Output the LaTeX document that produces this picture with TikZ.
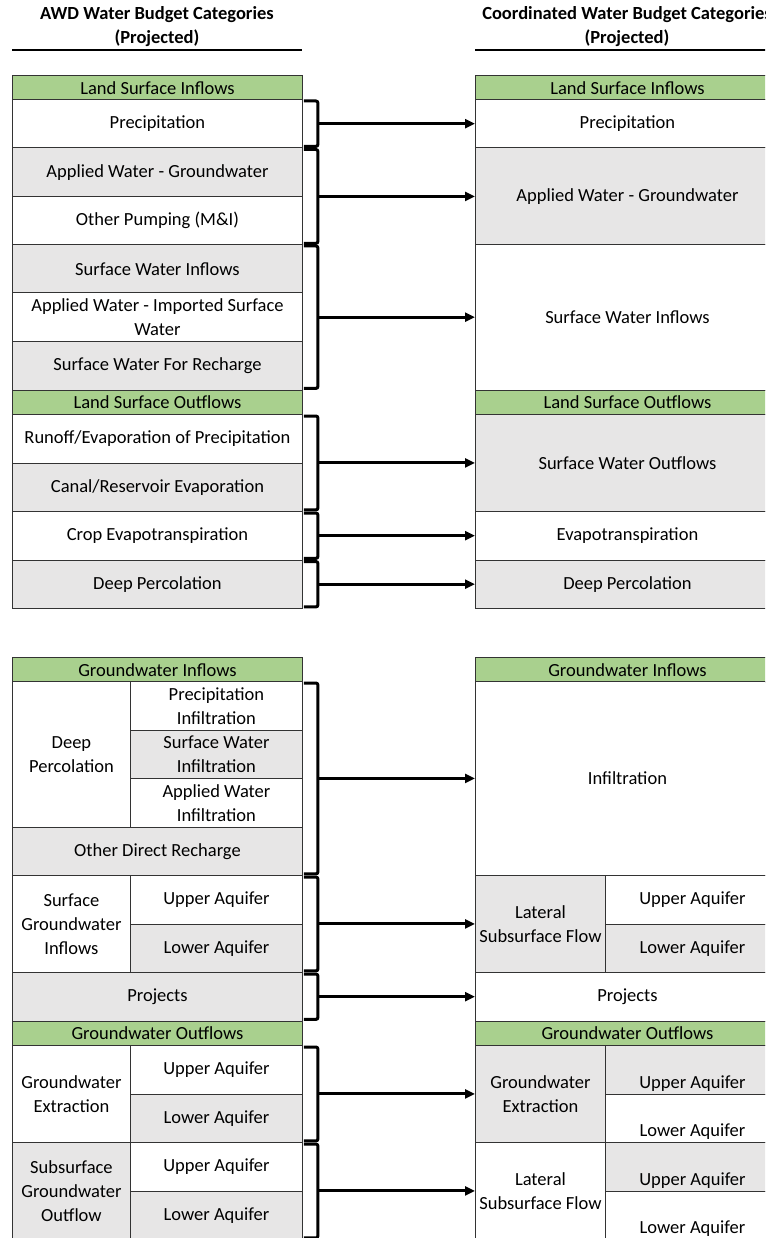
\documentclass[tikz,border=0pt]{standalone}
\usepackage{fontspec}
\setmainfont{Carlito}
\usepackage{xcolor}
\usetikzlibrary{arrows.meta,calc}

\definecolor{headgreen}{RGB}{169,208,142}
\definecolor{cellgrey}{RGB}{231,230,230}

\begin{document}
\begin{tikzpicture}[x=1pt, y=-1pt,
      every node/.style = {font=\fontsize{18.5}{24}\selectfont},
      cell/.style = {shape=rectangle, draw=black!80, line width=0.9pt,
        anchor=north west, inner sep=0pt, align=center},
      hdr/.style = {cell, fill=headgreen, minimum height=24.5pt},
      wh/.style = {cell, fill=white},
      gr/.style = {cell, fill=cellgrey},
      h1/.style = {minimum height=48.5pt},
      h2/.style = {minimum height=97pt},
      h3/.style = {minimum height=145.5pt},
      h4/.style = {minimum height=194pt},
      lw/.style = {minimum width=290pt},
      lc/.style = {minimum width=118pt},
      lr/.style = {minimum width=172pt},
      rw/.style = {minimum width=304pt},
      rc/.style = {minimum width=130pt},
      rr/.style = {minimum width=174pt},
      low/.style = {label={[above=3pt, inner sep=0pt]south:#1}},
      title/.style = {font=\fontsize{18.5}{24}\selectfont\bfseries, align=center},
      brk/.style = {line width=3pt, rounded corners=2pt},
      arr/.style = {line width=3pt, -{Triangle[length=10pt,width=9pt]}}]

  \clip (0,0) rectangle (765,1238);

  % titles
  \node[title] (tleft) at (157,27) {AWD Water Budget Categories\\(Projected)};
  \node[title] (tright) at (627,27) {Coordinated Water Budget Categories\\(Projected)};
  \draw[line width=1.2pt] (12,50) -- (302,50);
  \draw[line width=1.2pt] (475,50) -- (779,50);

  % land surface, AWD
  \node[hdr, lw] (lLSI) at (12,75) {Land Surface Inflows};
  \node[wh, lw, h1] (lPrec) at (12,99) {Precipitation};
  \node[gr, lw, h1] (lAWG) at (12,147.5) {Applied Water - Groundwater};
  \node[wh, lw, h1] (lOP) at (12,196) {Other Pumping (M\&I)};
  \node[gr, lw, h1] (lSWI) at (12,244) {Surface Water Inflows};
  \node[wh, lw, h1] (lAWI) at (12,292.5) {Applied Water - Imported Surface\\Water};
  \node[gr, lw, h1] (lSWR) at (12,341) {Surface Water For Recharge};
  \node[hdr, lw] (lLSO) at (12,389.5) {Land Surface Outflows};
  \node[wh, lw, h1] (lRun) at (12,414) {Runoff/Evaporation of Precipitation};
  \node[gr, lw, h1] (lCan) at (12,462.5) {Canal/Reservoir Evaporation};
  \node[wh, lw, h1] (lCrop) at (12,511) {Crop Evapotranspiration};
  \node[gr, lw, h1] (lDP) at (12,559.5) {Deep Percolation};

  % land surface, coordinated
  \node[hdr, rw] (rLSI) at (475,75) {Land Surface Inflows};
  \node[wh, rw, h1] (rPrec) at (475,99) {Precipitation};
  \node[gr, rw, h2] (rAWG) at (475,147.5) {Applied Water - Groundwater};
  \node[wh, rw, h3] (rSWI) at (475,244) {Surface Water Inflows};
  \node[hdr, rw] (rLSO) at (475,389.5) {Land Surface Outflows};
  \node[gr, rw, h2] (rSWO) at (475,414) {Surface Water Outflows};
  \node[wh, rw, h1] (rET) at (475,511) {Evapotranspiration};
  \node[gr, rw, h1] (rDP) at (475,559.5) {Deep Percolation};

  % groundwater, AWD
  \node[hdr, lw] (lGWI) at (12,657) {Groundwater Inflows};
  \node[wh, lc, h3] (lDPc) at (12,681) {Deep\\Percolation};
  \node[wh, lr, h1] (lPI) at (130,681) {Precipitation\\Infiltration};
  \node[gr, lr, h1] (lSWInf) at (130,729.5) {Surface Water\\Infiltration};
  \node[wh, lr, h1] (lAWInf) at (130,778) {Applied Water\\Infiltration};
  \node[gr, lw, h1] (lODR) at (12,826.5) {Other Direct Recharge};
  \node[wh, lc, h2] (lSGI) at (12,875) {Surface\\Groundwater\\Inflows};
  \node[wh, lr, h1] (lSGIu) at (130,875) {Upper Aquifer};
  \node[gr, lr, h1] (lSGIl) at (130,923.5) {Lower Aquifer};
  \node[gr, lw, h1] (lProj) at (12,972) {Projects};
  \node[hdr, lw] (lGWO) at (12,1020.5) {Groundwater Outflows};
  \node[wh, lc, h2] (lGE) at (12,1045) {Groundwater\\Extraction};
  \node[wh, lr, h1] (lGEu) at (130,1045) {Upper Aquifer};
  \node[gr, lr, h1] (lGEl) at (130,1093.5) {Lower Aquifer};
  \node[gr, lc, h2] (lSGO) at (12,1142) {Subsurface\\Groundwater\\Outflow};
  \node[wh, lr, h1] (lSGOu) at (130,1142) {Upper Aquifer};
  \node[gr, lr, h1] (lSGOl) at (130,1190.5) {Lower Aquifer};

  % groundwater, coordinated
  \node[hdr, rw] (rGWI) at (475,657) {Groundwater Inflows};
  \node[wh, rw, h4] (rInf) at (475,681) {Infiltration};
  \node[gr, rc, h2] (rLSF) at (475,875) {Lateral\\Subsurface Flow};
  \node[wh, rr, h1] (rLSFu) at (605,875) {Upper Aquifer};
  \node[gr, rr, h1] (rLSFl) at (605,923.5) {Lower Aquifer};
  \node[wh, rw, h1] (rProj) at (475,972) {Projects};
  \node[hdr, rw] (rGWO) at (475,1020.5) {Groundwater Outflows};
  \node[gr, rc, h2] (rGE) at (475,1045) {Groundwater\\Extraction};
  \node[gr, rr, h1, low=Upper Aquifer] (rGEu) at (605,1045) {};
  \node[wh, rr, h1, low=Lower Aquifer] (rGEl) at (605,1093.5) {};
  \node[wh, rc, h2] (rLSO2) at (475,1142) {Lateral\\Subsurface Flow};
  \node[gr, rr, h1, low=Upper Aquifer] (rLSOu) at (605,1142) {};
  \node[wh, rr, h1, low=Lower Aquifer] (rLSOl) at (605,1190.5) {};

  % brackets and arrows
  \foreach \t/\b/\g in {lPrec/lPrec/rPrec, lAWG/lOP/rAWG, lSWI/lSWR/rSWI,
      lRun/lCan/rSWO, lCrop/lCrop/rET, lDP/lDP/rDP, lPI/lODR/rInf,
      lSGIu/lSGIl/rLSF, lProj/lProj/rProj, lGEu/lGEl/rGE, lSGOu/lSGOl/rLSO2} {
    \draw[brk] ([xshift=1pt,yshift=-2pt]\t.north east) -- ++(14,0)
      |- ([xshift=1pt,yshift=2pt]\b.south east);
    \coordinate (m) at ($(\t.north east)!.5!(\b.south east)+(15,0)$);
    \draw[arr] (m) -- (m -| \g.west);
  }
\end{tikzpicture}
\end{document}
